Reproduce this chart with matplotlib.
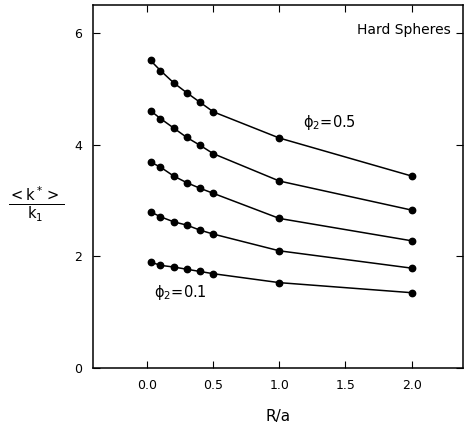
import matplotlib
matplotlib.use("Agg")
import matplotlib.pyplot as plt

# R/a values and <k*>/k1 for each volume fraction phi2
r_over_a = [0.025, 0.1, 0.2, 0.3, 0.4, 0.5, 1.0, 2.0]
phi_01 = [1.90, 1.84, 1.81, 1.77, 1.73, 1.69, 1.53, 1.35]
phi_02 = [2.80, 2.71, 2.62, 2.56, 2.47, 2.40, 2.10, 1.79]
phi_03 = [3.69, 3.60, 3.44, 3.32, 3.22, 3.13, 2.68, 2.28]
phi_04 = [4.61, 4.47, 4.30, 4.13, 3.99, 3.84, 3.35, 2.83]
phi_05 = [5.51, 5.33, 5.11, 4.93, 4.76, 4.59, 4.12, 3.44]

x_ticks = [0.0, 0.5, 1.0, 1.5, 2.0]
y_ticks = [0, 2, 4, 6]

plt.rcParams['font.family'] = ['DejaVu Sans']

fig = plt.figure(figsize=(4.65, 4.32), dpi=100)
ax = fig.add_axes([0.2, 0.148, 0.796, 0.84])

for series in [phi_01, phi_02, phi_03, phi_04, phi_05]:
    ax.plot(r_over_a, series, color="black", lw=1.1, marker="o", ms=4.6)

ax.set_xlim(-0.41, 2.39)
ax.set_ylim(0, 6.5)
ax.set_xticks(x_ticks)
ax.set_xticklabels(["%.1f" % v for v in x_ticks])
ax.set_yticks(y_ticks)
ax.tick_params(direction="in", top=True, right=True, length=5, labelsize=9, pad=8)

ax.text(2.3, 6.05, "Hard Spheres", ha="right", va="center", fontsize=10)
ax.text(1.38, 4.4, "ϕ$_2$=0.5", ha="center", va="center", fontsize=10.5)
ax.text(0.25, 1.35, "ϕ$_2$=0.1", ha="center", va="center", fontsize=10.5)

ax.set_xlabel("R/a", fontsize=11, labelpad=12)
fig.text(0.078, 0.525, r"$\frac{\mathrm{<k^*>}}{\mathrm{k_1}}$", ha="center", va="center", fontsize=15)

for s in ax.spines.values():
    s.set_linewidth(1.1)

plt.savefig("out.png")
